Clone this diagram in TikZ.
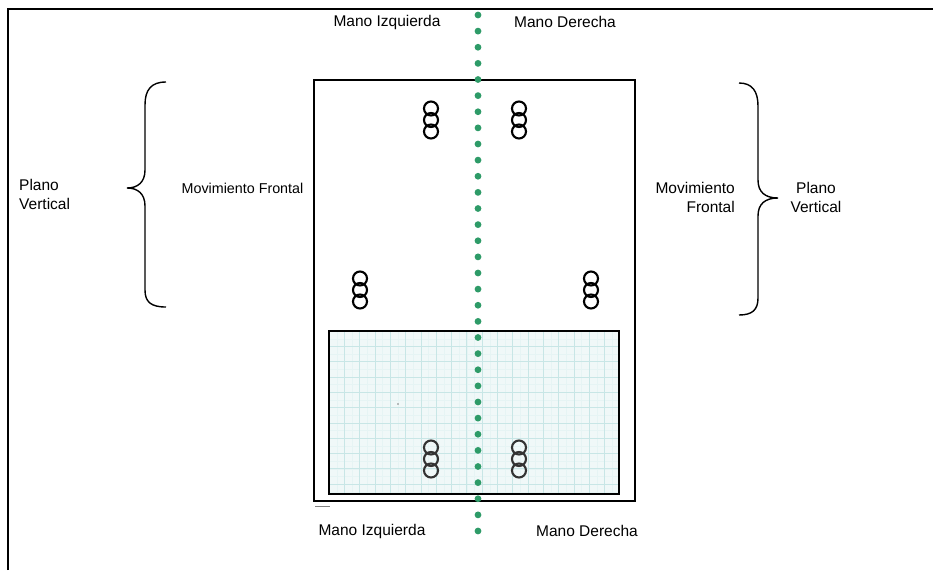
\documentclass[tikz,border=0pt]{standalone}
\usepackage{fontspec}
\setmainfont{Liberation Sans}
\definecolor{dotgreen}{RGB}{46,155,104}
\definecolor{gridfill}{RGB}{240,248,248}
\definecolor{gridline}{RGB}{200,230,230}
\tikzset{
  lbl/.style={font=\fontsize{15.5}{19}\selectfont, inner sep=0pt},
  ring/.style={line width=2.1pt},
  frame/.style={line width=2pt},
  gridminor/.style={gridline!45, line width=0.3pt},
  gridmajor/.style={gridline, line width=0.45pt},
  brace/.style={line width=1.4pt},
}
\newcommand{\ringstack}[3][black]{%
  \foreach \dy in {-11.5,0,11.5}
    \draw[ring,#1] (#2,{#3+\dy}) circle (7pt);}
\begin{document}
\begin{tikzpicture}[x=1pt,y=-1pt]
  \useasboundingbox (0,0) rectangle (933,570);
  % outer frame
  \draw[frame] (8,570) -- (8,9) -- (933,9);
  % grid zone
  \fill[gridfill] (329,331) rectangle (619,494);
  \foreach \gx in {336.65,344.3,...,619}
    \draw[gridminor] (\gx,331) -- (\gx,494);
  \foreach \gy in {338.65,346.3,...,494}
    \draw[gridminor] (329,\gy) -- (619,\gy);
  \foreach \gx in {344.3,359.6,...,619}
    \draw[gridmajor] (\gx,331) -- (\gx,494);
  \foreach \gy in {346.3,361.6,...,494}
    \draw[gridmajor] (329,\gy) -- (619,\gy);
  \draw[frame] (329,331) rectangle (619,494);
  \fill[gray] (398,404) circle (0.8pt);
  % sheet
  \draw[frame] (314,80) rectangle (635,501);
  \draw[gray, line width=1pt] (315,506) -- (330,506);
  % rings
  \ringstack{431}{120}
  \ringstack{519}{120}
  \ringstack{360}{290}
  \ringstack{591}{290}
  \ringstack[black!80]{431}{459}
  \ringstack[black!80]{519}{459}
  % middle line
  \foreach \k in {0,...,32}
    \fill[dotgreen] (478,{15+16.125*\k}) circle (3.4pt);
  % labels
  \node[lbl] (izqTop) at (387,22) {Mano Izquierda};
  \node[lbl] (derTop) at (565,22) {Mano Derecha};
  \node[lbl] (izqBot) at (372,531) {Mano Izquierda};
  \node[lbl] (derBot) at (587,531) {Mano Derecha};
  \node[lbl, align=left, anchor=west] (planoL) at (19,194) {Plano\\Vertical};
  \node[lbl, font=\fontsize{14.3}{19}\selectfont] (movL) at (242.5,188) {Movimiento Frontal};
  \node[lbl, align=right, anchor=east] (movR) at (735,197) {Movimiento\\Frontal};
  \node[lbl, align=center] (planoR) at (816,197) {Plano\\Vertical};
  % braces
  \draw[brace] (166,82) .. controls (151,82) and (145,90) .. (145,105) -- (145,170)
    .. controls (145,182) and (138,188) .. (127,188)
    .. controls (138,188) and (145,194) .. (145,206) -- (145,290)
    .. controls (145,302) and (151,307) .. (166,307);
  \draw[brace] (739,83) .. controls (752,83) and (758,91) .. (758,106) -- (758,180)
    .. controls (758,192) and (765,198) .. (778,198)
    .. controls (765,198) and (758,204) .. (758,216) -- (758,298)
    .. controls (758,310) and (752,315) .. (739,315);
\end{tikzpicture}
\end{document}
